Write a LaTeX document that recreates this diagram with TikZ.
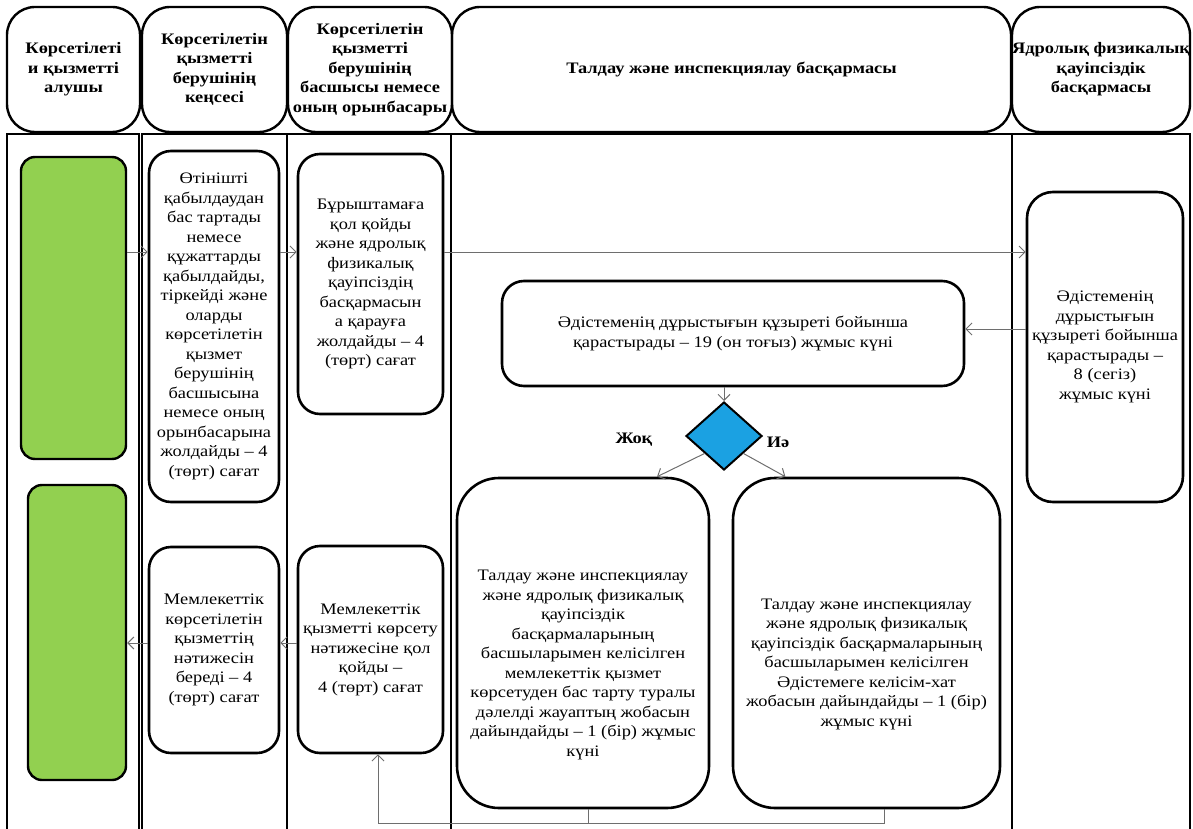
\documentclass[tikz,border=0pt]{standalone}
\usepackage{fontspec}
\setmainfont{Liberation Serif}[FakeStretch=1.15]
\newfontfamily\laneserif{Liberation Serif}[FakeStretch=1.15]
\usepackage{tikz}
\usetikzlibrary{arrows.meta}
\usetikzlibrary{shapes.geometric}
\definecolor{ServiceGreen}{HTML}{92D050}
\definecolor{DecisionBlue}{HTML}{1BA1E2}
\definecolor{LinkGray}{HTML}{6E6E6E}

\tikzset{
  head/.style={draw, line width=2.4pt, rounded corners=28pt, align=center,
    inner sep=0pt, font=\laneserif\bfseries\fontsize{16}{19.5}\selectfont},
  stage/.style={draw, line width=2.6pt, rounded corners=22pt, align=center,
    inner sep=0pt, font=\laneserif\fontsize{16}{19.5}\selectfont},
  client/.style={draw, fill=ServiceGreen, line width=2.4pt, rounded corners=14pt,
    inner sep=0pt},
  link/.style={LinkGray, line width=1pt, -{Straight Barb[length=6pt,width=12pt]}},
  lane/.style={line width=1.2pt},
}

\begin{document}
\begin{tikzpicture}[x=1pt, y=-1pt]
    \useasboundingbox (0,0) rectangle (1193,829);

    % headers of the lanes
    \node[head, minimum width=133, minimum height=125] (recv) at (73.5,69.5)
    {Көрсетілеті\\и қызметті\\алушы};
    \node[head, minimum width=145, minimum height=125] (office) at (214.5,69.5)
    {Көрсетілетін\\қызметті\\берушінің\\кеңсесі};
    \node[head, minimum width=164, minimum height=125] (chief) at (370,69.5)
    {Көрсетілетін\\қызметті\\берушінің\\басшысы немесе\\оның орынбасары};
    \node[head, minimum width=559, minimum height=125] (analysis) at (731.5,69.5)
    {Талдау және инспекциялау басқармасы};
    \node[head, minimum width=178, minimum height=125] (nuclear) at (1101,69.5)
    {Ядролық физикалық\\қауіпсіздік\\басқармасы};

    % lanes
    \foreach \l/\r in {7/139,142/287,287/451,451/1012,1012/1190}
        \draw[lane] (\l,829) |- (\r,134) -- (\r,829);

    % service receiver
    \node[client, minimum width=105, minimum height=302] (client1) at (73.5,308) {};
    \node[client, minimum width=98, minimum height=295] (client2) at (77,632.5) {};

    % office and chief
    \node[stage, minimum width=130, minimum height=351] (boxA) at (214,326.5)
    {Өтінішті\\қабылдаудан\\бас тартады\\немесе\\құжаттарды\\қабылдайды,\\тіркейді және\\оларды\\көрсетілетін\\қызмет\\берушінің\\басшысына\\немесе оның\\орынбасарына\\жолдайды – 4\\(төрт) сағат};
    \node[stage, minimum width=145, minimum height=260] (boxB) at (370.5,284)
    {Бұрыштамаға\\қол қойды\\және ядролық\\физикалық\\қауіпсіздің\\басқармасын\\а қарауға\\жолдайды – 4\\(төрт) сағат};
    \node[stage, minimum width=130, minimum height=206] (boxG) at (214,650)
    {Мемлекеттік\\көрсетілетін\\қызметтің\\нәтижесін\\береді – 4\\(төрт) сағат};
    \node[stage, minimum width=145, minimum height=207] (boxH) at (370.5,649.5)
    {Мемлекеттік\\қызметті көрсету\\нәтижесіне қол\\қойды –\\4 (төрт) сағат};

    % analysis and nuclear safety
    \node[stage, minimum width=462, minimum height=105] (boxC) at (733,333.5)
    {Әдістеменің дұрыстығын құзыреті бойынша\\қарастырады – 19 (он тоғыз) жұмыс күні};
    \node[stage, minimum width=156, minimum height=310, rounded corners=26pt] (boxD) at (1105,347)
    {Әдістеменің\\дұрыстығын\\құзыреті бойынша\\қарастырады –\\8 (сегіз)\\жұмыс күні};
    \node[diamond, draw, fill=DecisionBlue, line width=2pt, aspect=1.1, inner sep=0pt,
        minimum width=76, minimum height=68] (choice) at (724,436) {};
    \node[font=\laneserif\bfseries\fontsize{16}{19.5}\selectfont] (no) at (634,440) {Жоқ};
    \node[font=\laneserif\bfseries\fontsize{16}{19.5}\selectfont] (yes) at (778,442) {Иә};
    \node[stage, minimum width=252, minimum height=330, rounded corners=42pt,
        label={[align=center, font=\laneserif\fontsize{16}{19.5}\selectfont, yshift=-22pt]center:{Талдау және инспекциялау\\және ядролық физикалық\\қауіпсіздік\\басқармаларының\\басшыларымен келісілген\\мемлекеттік қызмет\\көрсетуден бас тарту туралы\\дәлелді жауаптың жобасын\\дайындайды – 1 (бір) жұмыс\\күні}}]
        (boxE) at (583,643) {};
    \node[stage, minimum width=267, minimum height=330, rounded corners=42pt,
        label={[align=center, font=\laneserif\fontsize{16}{19.5}\selectfont, yshift=-21pt]center:{Талдау және инспекциялау\\және ядролық физикалық\\қауіпсіздік басқармаларының\\басшыларымен келісілген\\Әдістемеге келісім-хат\\жобасын дайындайды – 1 (бір)\\жұмыс күні}}]
        (boxF) at (866.5,643) {};

    % connectors
    \coordinate (toprow) at (0,252);
    \coordinate (midrow) at (0,329);
    \coordinate (lowrow) at (0,643);
    \coordinate (join) at (378,823);
    \draw[link] (client1.east |- toprow) -- (boxA.west |- toprow);
    \draw[link] (boxA.east |- toprow) -- (boxB.west |- toprow);
    \draw[link] (boxB.east |- toprow) -- (boxD.west |- toprow);
    \draw[link] (boxD.west |- midrow) -- (boxC.east |- midrow);
    \draw[link] (boxC.south -| choice) -- (choice.north);
    \draw[link] (choice.south west) -- (boxE.66);
    \draw[link] (choice.south east) -- (boxF.116);
    \draw[link, -] ([xshift=5pt]boxE.south) -- ([xshift=5pt]boxE.south |- join);
    \draw[link, -] ([xshift=17.5pt]boxF.south) -- ([xshift=17.5pt]boxF.south |- join) -- (join);
    \draw[link] (join) -- (join |- boxH.south);
    \draw[link] (boxH.west |- lowrow) -- (boxG.east |- lowrow);
    \draw[link] (boxG.west |- lowrow) -- (client2.east |- lowrow);
\end{tikzpicture}
\end{document}
